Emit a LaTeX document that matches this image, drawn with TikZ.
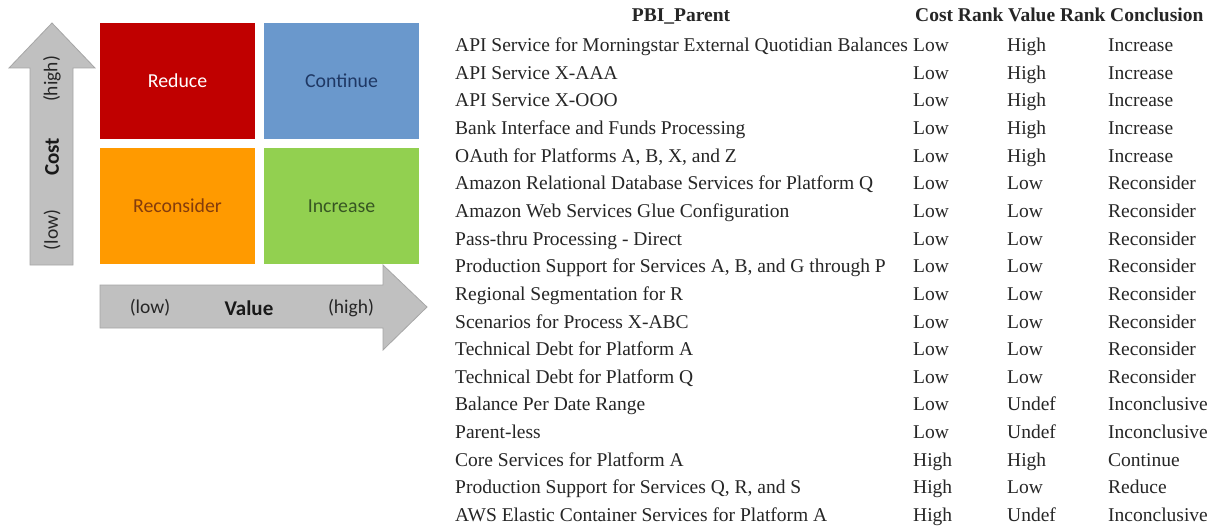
\documentclass[tikz,border=0pt]{standalone}
\usepackage{fontspec}
\setmainfont{Liberation Serif}
\newfontfamily\calib{Carlito}
\definecolor{qred}{HTML}{C00000}
\definecolor{qblue}{HTML}{6A98CC}
\definecolor{qorange}{HTML}{FF9A00}
\definecolor{qgreen}{HTML}{92D050}
\definecolor{tcont}{HTML}{1F3864}
\definecolor{trecon}{HTML}{843C0C}
\definecolor{tincr}{HTML}{375623}
\definecolor{arrfill}{HTML}{C0C0C0}
\definecolor{arrline}{HTML}{A6A6A6}
\definecolor{tabtext}{HTML}{262626}
\newcommand\tabrow[5]{%
  \node[cell] (n#1) at (455,{51.5+(#1-1)*27.65}) {#2};
  \node[cell] (c#1) at (913,{51.5+(#1-1)*27.65}) {#3};
  \node[cell] (v#1) at (1007,{51.5+(#1-1)*27.65}) {#4};
  \node[cell] (k#1) at (1108,{51.5+(#1-1)*27.65}) {#5};
}
\begin{document}
\begin{tikzpicture}[x=1pt,y=-1pt,
  quad/.style={rectangle, minimum width=155pt, minimum height=116pt, inner sep=0pt,
    font=\calib\fontsize{19.8}{21}\selectfont},
  axislbl/.style={inner sep=0pt, text=black!85, font=\calib\fontsize{19.5}{21}\selectfont},
  axisbold/.style={inner sep=0pt, text=black!90, font=\calib\bfseries\fontsize{21}{23}\selectfont},
  bigarrow/.style={fill=arrfill, draw=arrline, line width=0.8pt, line join=miter},
  cell/.style={anchor=base west, inner sep=0pt, text=tabtext, font=\fontsize{19.5}{22}\selectfont},
  hcell/.style={anchor=base west, inner sep=0pt, text=tabtext, font=\bfseries\fontsize{19.5}{22}\selectfont}]
\useasboundingbox (0,0) rectangle (1216,527);
\fill[white] (0,0) rectangle (1216,527);
% quadrants
\node[quad, fill=qred, text=white] (reduce) at (177.5,81) {Reduce};
\node[quad, fill=qblue, text=tcont] (continue) at (341.5,81) {Continue};
\node[quad, fill=qorange, text=trecon] (reconsider) at (177.5,206) {Reconsider};
\node[quad, fill=qgreen, text=tincr] (increase) at (341.5,206) {Increase};
% cost arrow
\draw[bigarrow] (30,265) -- (30,68) -- (9,68) -- (52,23) -- (95,68) -- (73,68) -- (73,265) -- cycle;
\node[axislbl, rotate=90] (costlow) at (52,230) {(low)};
\node[axisbold, rotate=90] (cost) at (52,157) {Cost};
\node[axislbl, rotate=90] (costhigh) at (52,79) {(high)};
% value arrow
\draw[bigarrow] (100,285) -- (383,285) -- (383,265) -- (427,307) -- (383,350) -- (383,328) -- (100,328) -- cycle;
\node[axislbl] (vallow) at (150,308) {(low)};
\node[axisbold] (value) at (249,308) {Value};
\node[axislbl] (valhigh) at (351,308) {(high)};
% table header
\node[hcell, anchor=base] (hP) at (681,21.5) {PBI\_Parent};
\node[hcell] (hC) at (915,21.5) {Cost Rank};
\node[hcell] (hV) at (1008,21.5) {Value Rank};
\node[hcell] (hK) at (1110,21.5) {Conclusion};
% table rows
\tabrow{1}{API Service for Morningstar External Quotidian Balances}{Low}{High}{Increase}
\tabrow{2}{API Service X-AAA}{Low}{High}{Increase}
\tabrow{3}{API Service X-OOO}{Low}{High}{Increase}
\tabrow{4}{Bank Interface and Funds Processing}{Low}{High}{Increase}
\tabrow{5}{OAuth for Platforms A, B, X, and Z}{Low}{High}{Increase}
\tabrow{6}{Amazon Relational Database Services for Platform Q}{Low}{Low}{Reconsider}
\tabrow{7}{Amazon Web Services Glue Configuration}{Low}{Low}{Reconsider}
\tabrow{8}{Pass-thru Processing - Direct}{Low}{Low}{Reconsider}
\tabrow{9}{Production Support for Services A, B, and G through P}{Low}{Low}{Reconsider}
\tabrow{10}{Regional Segmentation for R}{Low}{Low}{Reconsider}
\tabrow{11}{Scenarios for Process X-ABC}{Low}{Low}{Reconsider}
\tabrow{12}{Technical Debt for Platform A}{Low}{Low}{Reconsider}
\tabrow{13}{Technical Debt for Platform Q}{Low}{Low}{Reconsider}
\tabrow{14}{Balance Per Date Range}{Low}{Undef}{Inconclusive}
\tabrow{15}{Parent-less}{Low}{Undef}{Inconclusive}
\tabrow{16}{Core Services for Platform A}{High}{High}{Continue}
\tabrow{17}{Production Support for Services Q, R, and S}{High}{Low}{Reduce}
\tabrow{18}{AWS Elastic Container Services for Platform A}{High}{Undef}{Inconclusive}
\end{tikzpicture}
\end{document}
